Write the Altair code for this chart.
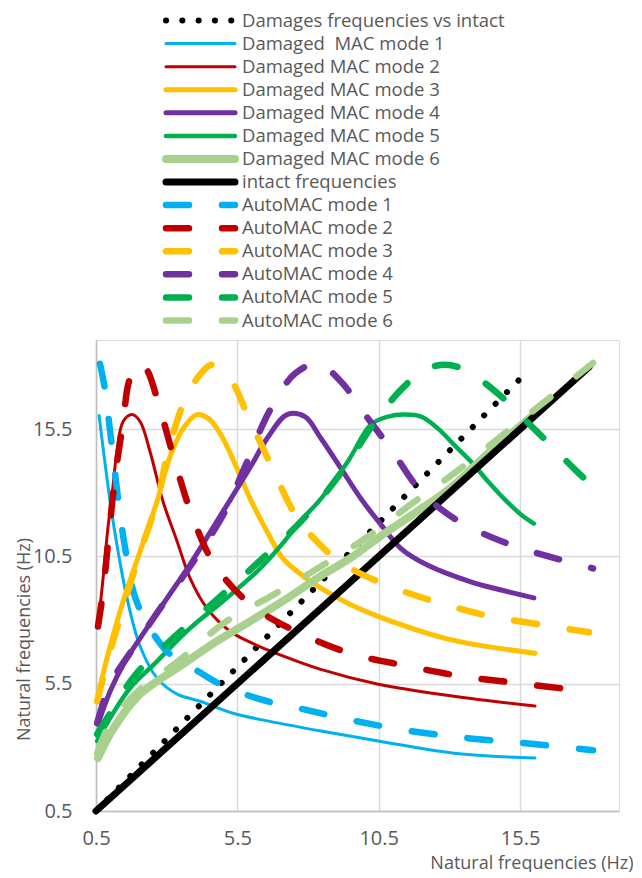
import altair as alt
import pandas as pd

# ---------------- data ----------------
labels = [
    "Damages frequencies vs intact",
    "Damaged\u00a0 MAC mode 1",
    "Damaged MAC mode 2",
    "Damaged MAC mode 3",
    "Damaged MAC mode 4",
    "Damaged MAC mode 5",
    "Damaged MAC mode 6",
    "intact frequencies",
    "AutoMAC mode 1",
    "AutoMAC mode 2",
    "AutoMAC mode 3",
    "AutoMAC mode 4",
    "AutoMAC mode 5",
    "AutoMAC mode 6",
]

dotted_x = [0.5, 15.7]
dotted_y = [0.5, 17.7]

d1_x = [0.61, 1.0, 1.28, 1.6, 2.06, 2.66, 3.37, 4.18, 5.35, 6.65, 8.46, 10.48, 13.16, 16.03]
d1_y = [16.03, 12.66, 10.7, 8.85, 6.97, 5.72, 5.09, 4.81, 4.34, 4.02, 3.64, 3.25, 2.77, 2.58]

d2_x = [0.57, 0.75, 0.92, 1.07, 1.24, 1.46, 1.77, 2.06, 2.41, 2.87, 3.37, 3.83, 4.43, 5.24, 5.95, 7.11, 8.42, 10.48, 13.16, 16.03]
d2_y = [7.75, 9.64, 11.6, 12.93, 14.62, 15.8, 16.07, 15.8, 14.62, 12.66, 11.09, 9.64, 8.46, 7.56, 7.13, 6.59, 6.07, 5.48, 5.01, 4.62]

d3_x = [0.57, 0.89, 1.46, 2.06, 2.66, 3.12, 3.58, 4.07, 4.53, 4.99, 5.49, 5.95, 6.55, 7.11, 7.96, 8.46, 9.48, 10.83, 13.16, 16.03]
d3_y = [5.0, 6.5, 8.74, 10.7, 12.66, 14.42, 15.52, 16.07, 15.87, 15.13, 13.95, 12.77, 11.48, 10.42, 9.62, 9.25, 8.62, 8.0, 7.2, 6.7]

d4_x = [0.57, 1.0, 1.53, 2.3, 3.01, 3.83, 4.99, 5.95, 6.55, 7.26, 7.89, 8.46, 9.17, 9.87, 10.58, 11.29, 12.24, 13.76, 14.83, 15.99]
d4_y = [3.91, 5.2, 6.38, 7.68, 8.85, 10.19, 12.26, 13.99, 15.13, 16.07, 15.99, 15.13, 13.95, 12.77, 11.75, 10.81, 10.15, 9.5, 9.18, 8.87]

d5_x = [0.54, 1.0, 1.7, 2.66, 3.83, 4.99, 6.2, 7.01, 7.72, 8.46, 9.41, 10.23, 10.83, 11.4, 12.0, 12.6, 13.16, 13.76, 14.37, 14.93, 15.53, 15.99]
d5_y = [3.25, 4.15, 5.32, 6.38, 7.68, 8.74, 9.91, 10.89, 11.87, 12.77, 14.23, 15.68, 15.99, 16.07, 15.99, 15.52, 14.89, 14.23, 13.44, 12.77, 12.15, 11.79]

d6_x = [0.57, 1.0, 1.46, 2.06, 2.66, 3.37, 4.78, 5.95, 7.11, 8.32, 9.48, 10.65, 11.85, 13.02, 14.44, 16.03]
d6_y = [2.58, 3.52, 4.3, 5.09, 5.6, 6.11, 7.17, 7.95, 8.74, 9.64, 10.42, 11.36, 12.26, 13.17, 14.62, 16.1]

intact_x = [0.5, 17.95]
intact_y = [0.5, 17.95]

a1_x = [0.64, 0.82, 1.0, 1.49, 1.91, 2.59, 3.12, 4.11, 4.89, 6.3, 7.82, 9.7, 11.64, 13.66, 15.6, 18.08]
a1_y = [18.07, 17.05, 15.4, 11.1, 8.81, 7.36, 6.66, 5.99, 5.48, 4.89, 4.5, 4.03, 3.64, 3.36, 3.17, 2.89]

a2_x = [0.57, 0.75, 0.96, 1.17, 1.46, 1.7, 2.06, 2.3, 2.76, 3.29, 3.9, 4.71, 6.05, 7.72, 9.59, 11.54, 13.45, 15.43, 17.9]
a2_y = [7.75, 9.13, 11.4, 13.56, 15.8, 17.48, 18.07, 17.83, 16.3, 14.23, 12.1, 10.15, 8.54, 7.48, 6.66, 6.19, 5.79, 5.52, 5.2]

a3_x = [0.54, 1.0, 1.42, 1.99, 2.66, 3.05, 3.65, 4.18, 4.6, 5.24, 5.88, 6.73, 7.61, 8.6, 9.38, 10.72, 12.56, 14.44, 16.42, 17.94]
a3_y = [4.81, 6.77, 8.34, 10.42, 12.66, 14.62, 16.66, 17.64, 18.03, 17.48, 16.0, 13.99, 12.03, 10.77, 10.11, 9.4, 8.7, 8.15, 7.79, 7.52]

a4_x = [0.54, 1.0, 1.7, 2.87, 4.0, 5.06, 5.77, 6.66, 7.54, 8.35, 9.17, 10.0, 10.94, 12.0, 13.23, 15.04, 16.9, 18.08]
a4_y = [3.95, 5.48, 6.7, 8.62, 10.38, 12.26, 14.03, 16.26, 17.68, 18.07, 17.36, 16.1, 14.7, 13.05, 11.95, 11.01, 10.38, 10.03]

a5_x = [0.54, 1.0, 1.88, 3.29, 4.78, 6.23, 7.68, 8.46, 9.27, 10.33, 11.29, 12.14, 12.85, 13.55, 14.68, 16.1, 17.48, 18.08]
a5_y = [3.52, 4.34, 5.83, 7.36, 8.81, 10.26, 11.79, 12.77, 13.95, 15.72, 17.05, 17.83, 18.03, 17.83, 16.93, 15.4, 13.87, 13.25]

a6_x = [0.54, 1.0, 2.06, 3.4, 5.06, 6.8, 8.46, 10.12, 11.68, 13.34, 14.86, 16.42, 18.08]
a6_y = [2.77, 3.95, 5.28, 6.38, 7.91, 9.01, 10.11, 11.28, 12.58, 13.91, 15.25, 16.62, 18.1]

series_x = [dotted_x, d1_x, d2_x, d3_x, d4_x, d5_x, d6_x, intact_x,
            a1_x, a2_x, a3_x, a4_x, a5_x, a6_x]
series_y = [dotted_y, d1_y, d2_y, d3_y, d4_y, d5_y, d6_y, intact_y,
            a1_y, a2_y, a3_y, a4_y, a5_y, a6_y]

tick_values = [0.5, 5.5, 10.5, 15.5]

# ---------------- styles ----------------
BLUE, RED, YEL, PUR, GRN, LGR = "#00B0F0", "#C00000", "#FFC000", "#7030A0", "#00B050", "#A9D18E"
colors = ["#000000", BLUE, RED, YEL, PUR, GRN, LGR, "#000000", BLUE, RED, YEL, PUR, GRN, LGR]
widths = [6, 3, 3, 5, 5, 4.5, 8, 7, 6.5, 6.5, 6.5, 6.5, 6.5, 6.5]
DOT = [0.1, 16.2]
LONG = [23, 33]
dashes = [DOT, None, None, None, None, None, None, None, LONG, LONG, LONG, LONG, LONG, LONG]

TXT = "#595959"
FONT = "Open Sans"

x_scale = alt.Scale(domain=[0.5, 19], nice=False, zero=False)
y_scale = alt.Scale(domain=[0.5, 19], nice=False, zero=False)

x_axis = alt.Axis(
    values=tick_values, format=".1f", ticks=False, labelPadding=17, labelFlush=False,
    labelFontSize=20, labelColor=TXT, labelFont=FONT,
    domainColor="#BFBFBF", domainWidth=1.5, gridColor="#D9D9D9", gridWidth=1.5,
    title="Natural frequencies (Hz)", titleFont=FONT, titleFontSize=18,
    titleFontWeight="normal", titleColor=TXT, titleAlign="right",
    titleAnchor="end", titleX=537, titleY=52, titleBaseline="middle",
)
y_axis = alt.Axis(
    values=tick_values, format=".1f", ticks=False, labelPadding=24, labelFlush=False,
    labelFontSize=20, labelColor=TXT, labelFont=FONT,
    domainColor="#BFBFBF", domainWidth=1.5, gridColor="#D9D9D9", gridWidth=1.5,
    title="Natural frequencies (Hz)", titleFont=FONT, titleFontSize=18,
    titleFontWeight="normal", titleColor=TXT, titleAngle=-90,
    titleAlign="center", titleBaseline="middle", titleX=-72, titleY=299,
)

main_layers = []
for k, name in enumerate(labels):
    d = pd.DataFrame({"x": series_x[k], "y": series_y[k],
                      "i": list(range(len(series_x[k])))})
    mk = dict(color=colors[k], strokeWidth=widths[k], strokeCap="round",
              strokeJoin="round",
              interpolate="linear" if len(series_x[k]) == 2 else "catmull-rom")
    if dashes[k] is not None:
        mk["strokeDash"] = dashes[k]
    main_layers.append(
        alt.Chart(d).mark_line(**mk).encode(
            x=alt.X("x:Q", scale=x_scale, axis=x_axis),
            y=alt.Y("y:Q", scale=y_scale, axis=y_axis),
            order="i:Q",
        )
    )
main = alt.layer(*main_layers)

# ---------------- legend (drawn as marks above the plot) ----------------
lx_scale = alt.Scale(domain=[0, 1], range=[70, 139])
ly_scale = alt.Scale(domain=[0, len(labels) - 1], range=[-319.5, -19.5])

leg_layers = []
for k, name in enumerate(labels):
    d = pd.DataFrame({"lx": [0, 1], "row": [k, k]})
    mk = dict(color=colors[k], strokeWidth=widths[k], strokeCap="round")
    if dashes[k] is not None:
        mk["strokeDash"] = dashes[k]
    leg_layers.append(
        alt.Chart(d).mark_line(**mk).encode(
            x=alt.X("lx:Q", scale=lx_scale, axis=None),
            y=alt.Y("row:Q", scale=ly_scale, axis=None),
        )
    )
leg_text = alt.Chart(pd.DataFrame({"lx": [1] * len(labels), "row": list(range(len(labels))),
                                   "label": labels})).mark_text(
    align="left", baseline="middle", dx=7, fontSize=18.5, font=FONT, color=TXT
).encode(
    x=alt.X("lx:Q", scale=lx_scale, axis=None),
    y=alt.Y("row:Q", scale=ly_scale, axis=None),
    text="label:N",
)
legend = alt.layer(*leg_layers, leg_text)

chart = alt.layer(main, legend).resolve_scale(x="independent", y="independent").properties(
    width=523, height=471,
    padding={"left": 7, "top": 0, "right": 0, "bottom": 0},
).configure_view(stroke=None).configure(font=FONT)

chart.save("out.html", embed_options={"renderer": "svg", "actions": False})
